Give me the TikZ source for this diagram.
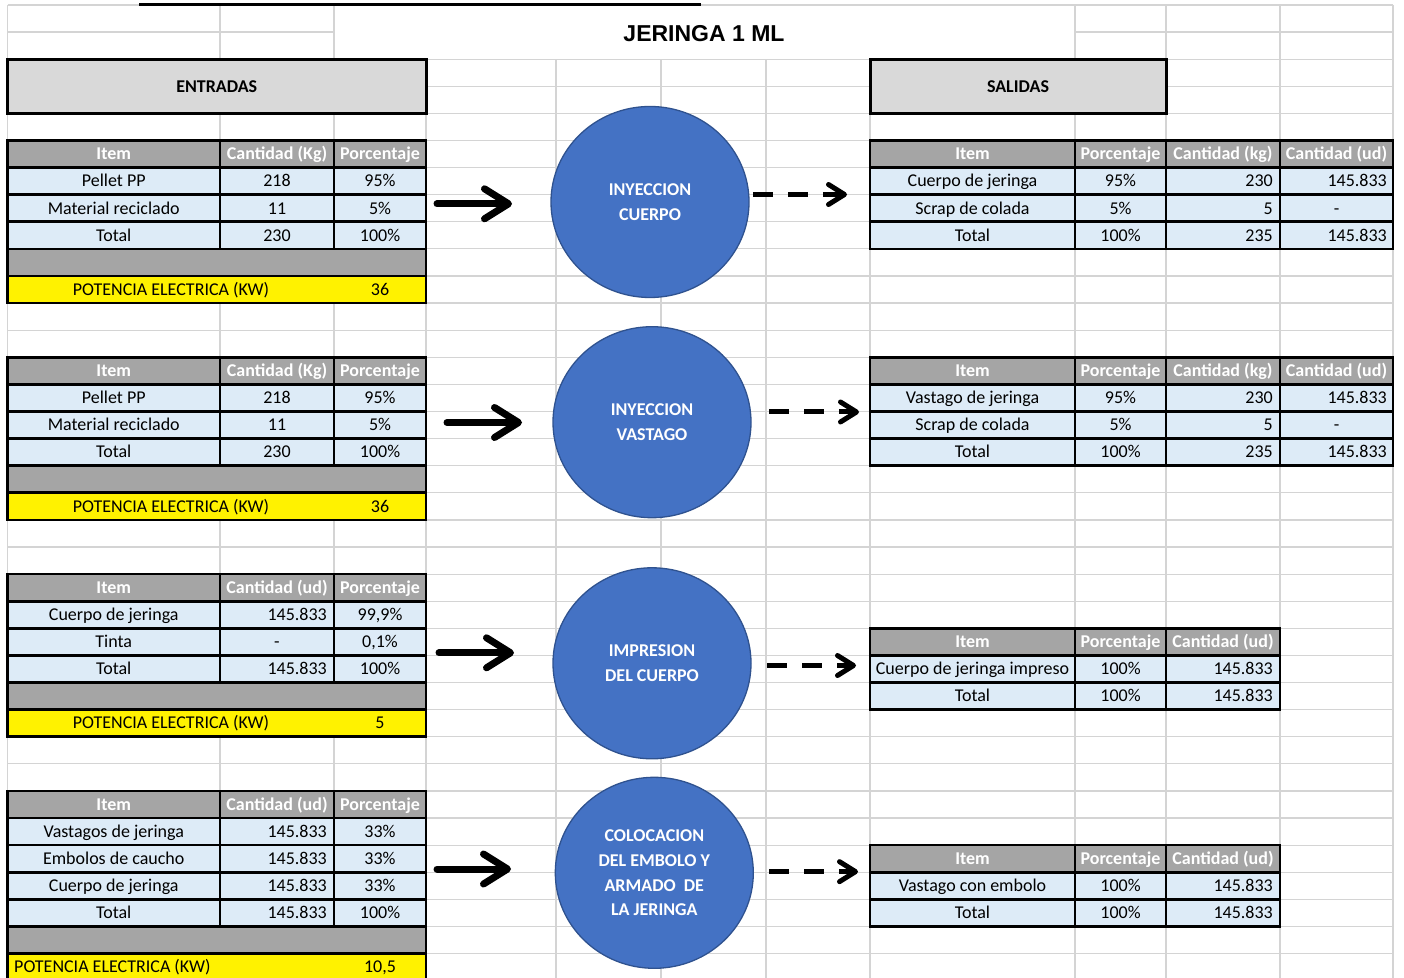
\documentclass[tikz,border=0pt]{standalone}
\usepackage{fontspec}
\setmainfont{Carlito}
\newfontfamily\arialf{Liberation Sans}
\usetikzlibrary{arrows.meta,shapes.geometric}
\definecolor{gridgray}{HTML}{D4D4D4}
\definecolor{cabgris}{HTML}{A5A5A5}
\definecolor{celeste}{HTML}{DDEBF7}
\definecolor{cajagris}{HTML}{D9D9D9}
\definecolor{azul}{HTML}{4472C4}
\definecolor{azulborde}{HTML}{2F528F}
\tikzset{
  rejilla/.style={draw=gridgray,line width=1.2pt},
  borde/.style={line width=2.7pt,line cap=rect},
  texto/.style={inner sep=0pt,font=\fontsize{18}{22}\selectfont,text height=11.6pt,text depth=0pt},
  cab/.style={texto,text=white,font=\fontsize{18}{22}\selectfont\bfseries},
  caja/.style={fill=cajagris,draw=black,line width=3pt},
  proceso/.style={ellipse,fill=azul,draw=azulborde,line width=1.3pt,minimum width=198pt,minimum height=191pt,
    inner sep=0pt,text=white,align=center,font=\fontsize{18}{24.8}\selectfont\bfseries},
  solida/.style={line width=7pt,line cap=round,-{Straight Barb[length=24pt,width=30pt,round]}},
  punteada/.style={line width=5pt,dash pattern=on 20pt off 15pt,-{Straight Barb[length=16pt,width=20pt,round]}}
}
\begin{document}
\begin{tikzpicture}[x=1pt,y=-27.1pt]
        %边界
            \useasboundingbox (0,-0.1845) rectangle (1404,35.904);
        %网格
            \foreach \r in {0,2,3,...,36} \draw[rejilla] (7.5,\r) -- (1393,\r);
            \draw[rejilla] (7.5,1) -- (334,1) (1075,1) -- (1393,1);
            \foreach \c in {7.5,220,334,1075,1166,1280,1393} \draw[rejilla] (\c,0) -- (\c,36);
            \foreach \c in {426,556,661,766,870} \draw[rejilla] (\c,2) -- (\c,36);
        %标题
            \draw [line width=3pt] (139,-0.03) -- (701,-0.03);
            \node[inner sep=0pt,font=\arialf\fontsize{23}{27}\selectfont\bfseries,text height=16.5pt,text depth=0pt] (titulo) at (704,1.05) {JERINGA 1 ML};
            \draw[caja] (7.5,2) rectangle (426,4);
            \node[texto,font=\fontsize{18}{22}\selectfont\bfseries] (entradas) at (216.75,3) {ENTRADAS};
            \draw[caja] (870,2) rectangle (1166,4);
            \node[texto,font=\fontsize{18}{22}\selectfont\bfseries] (salidas) at (1018,3) {SALIDAS};
        %入口表格
            \foreach \t/\n in {5/3,13/3,21/3,29/4}{
                \pgfmathtruncatemacro\d{\t+\n+1}
                \pgfmathtruncatemacro\e{\d+2}
                \fill[cabgris] (7.5,\t) rectangle (426,\t+1);
                \fill[celeste] (7.5,\t+1) rectangle (426,\d);
                \fill[cabgris] (7.5,\d) rectangle (426,\d+1);
                \fill[yellow] (7.5,\d+1) rectangle (426,\e);
                \foreach \r in {\t,...,\e} \draw[borde] (7.5,\r) -- (426,\r);
                \foreach \c in {7.5,426} \draw[borde] (\c,\t) -- (\c,\e);
                \foreach \c in {220,334} \draw[borde] (\c,\t) -- (\c,\d);
            }
            \foreach \t/\u in {5/Kg,13/Kg,21/ud,29/ud}{
                \node[cab] (ha-\t) at (113.75,\t+.5) {Item};
                \node[cab] (hb-\t) at (277,\t+.5) {Cantidad (\u)};
                \node[cab] (hc-\t) at (380,\t+.5) {Porcentaje};
            }
            \foreach \r/\a/\c in {6/Pellet PP/95\%,7/Material reciclado/5\%,8/Total/100\%,
                14/Pellet PP/95\%,15/Material reciclado/5\%,16/Total/100\%,
                22/Cuerpo de jeringa/{99,9\%},23/Tinta/{0,1\%},24/Total/100\%,
                30/Vastagos de jeringa/33\%,31/Embolos de caucho/33\%,32/Cuerpo de jeringa/33\%,33/Total/100\%}{
                \node[texto] (ea-\r) at (113.75,\r+.5) {\a};
                \node[texto] (ec-\r) at (380,\r+.5) {\c};
            }
            \foreach \r/\b in {6/218,7/11,8/230,14/218,15/11,16/230,23/-} \node[texto] (eb-\r) at (277,\r+.5) {\b};
            \foreach \r in {22,24,30,31,32,33} \node[texto,anchor=east] (eb-\r) at (327,\r+.5) {145.833};
            \foreach \r/\v in {10/36,18/36,26/5}{
                \node[texto] (pa-\r) at (171,\r+.5) {POTENCIA ELECTRICA (KW)};
                \node[texto] (pb-\r) at (380,\r+.5) {\v};
            }
            \node[texto,anchor=west] (pa-35) at (14,35.5) {POTENCIA ELECTRICA (KW)};
            \node[texto] (pb-35) at (380,35.5) {10,5};
        %出口表格
            \foreach \t/\n/\xr in {5/3/1393,13/3/1393,23/2/1280,31/2/1280}{
                \pgfmathtruncatemacro\e{\t+\n+1}
                \fill[cabgris] (870,\t) rectangle (\xr,\t+1);
                \fill[celeste] (870,\t+1) rectangle (\xr,\e);
                \foreach \r in {\t,...,\e} \draw[borde] (870,\r) -- (\xr,\r);
                \foreach \c in {870,1075,1166,1280,\xr} \draw[borde] (\c,\t) -- (\c,\e);
                \node[cab] (sha-\t) at (972.5,\t+.5) {Item};
                \node[cab] (shb-\t) at (1120.5,\t+.5) {Porcentaje};
            }
            \foreach \t in {5,13}{
                \node[cab] (shc-\t) at (1223,\t+.5) {Cantidad (kg)};
                \node[cab] (shd-\t) at (1336.5,\t+.5) {Cantidad (ud)};
            }
            \foreach \t in {23,31} \node[cab] (shc-\t) at (1223,\t+.5) {Cantidad (ud)};
            \foreach \r/\a/\b in {6/Cuerpo de jeringa/95\%,7/Scrap de colada/5\%,8/Total/100\%,
                14/Vastago de jeringa/95\%,15/Scrap de colada/5\%,16/Total/100\%,
                24/Cuerpo de jeringa impreso/100\%,25/Total/100\%,32/Vastago con embolo/100\%,33/Total/100\%}{
                \node[texto] (sa-\r) at (972.5,\r+.5) {\a};
                \node[texto] (sb-\r) at (1120.5,\r+.5) {\b};
            }
            \foreach \r/\v in {6/230,7/5,8/235,14/230,15/5,16/235,24/145.833,25/145.833,32/145.833,33/145.833}
                \node[texto,anchor=east] (sc-\r) at (1273,\r+.5) {\v};
            \foreach \r in {6,8,14,16} \node[texto,anchor=east] (sd-\r) at (1387,\r+.5) {145.833};
            \foreach \r in {7,15} \node[texto] (sd-\r) at (1336.5,\r+.5) {-};
        %工序
            \node[proceso] (cuerpo) at (650,7.269) {INYECCION\\CUERPO};
            \node[proceso] (vastago) at (652,15.395) {INYECCION\\VASTAGO};
            \node[proceso] (impresion) at (652,24.291) {IMPRESION\\DEL CUERPO};
            \node[proceso] (armado) at (654.3,32.022) {COLOCACION\\DEL EMBOLO Y\\ARMADO\ \ DE\\LA JERINGA};
        %箭头
            \coordinate (e1) at (437,7.336);  \coordinate (f1) at (512,7.336);
            \coordinate (e2) at (447,15.406); \coordinate (f2) at (522,15.406);
            \coordinate (e3) at (439,23.904); \coordinate (f3) at (514,23.904);
            \coordinate (e4) at (437,31.882); \coordinate (f4) at (511,31.882);
            \coordinate (s1) at (753,6.993);  \coordinate (t1) at (847,6.993);
            \coordinate (s2) at (769,15.018); \coordinate (t2) at (859,15.018);
            \coordinate (s3) at (767,24.373); \coordinate (t3) at (856,24.373);
            \coordinate (s4) at (769,31.98);  \coordinate (t4) at (858,31.98);
            \foreach \i in {1,...,4}{
                \draw[solida] (e\i) -- (f\i);
                \draw[punteada] (s\i) -- (t\i);
            }
    \end{tikzpicture}
\end{document}
